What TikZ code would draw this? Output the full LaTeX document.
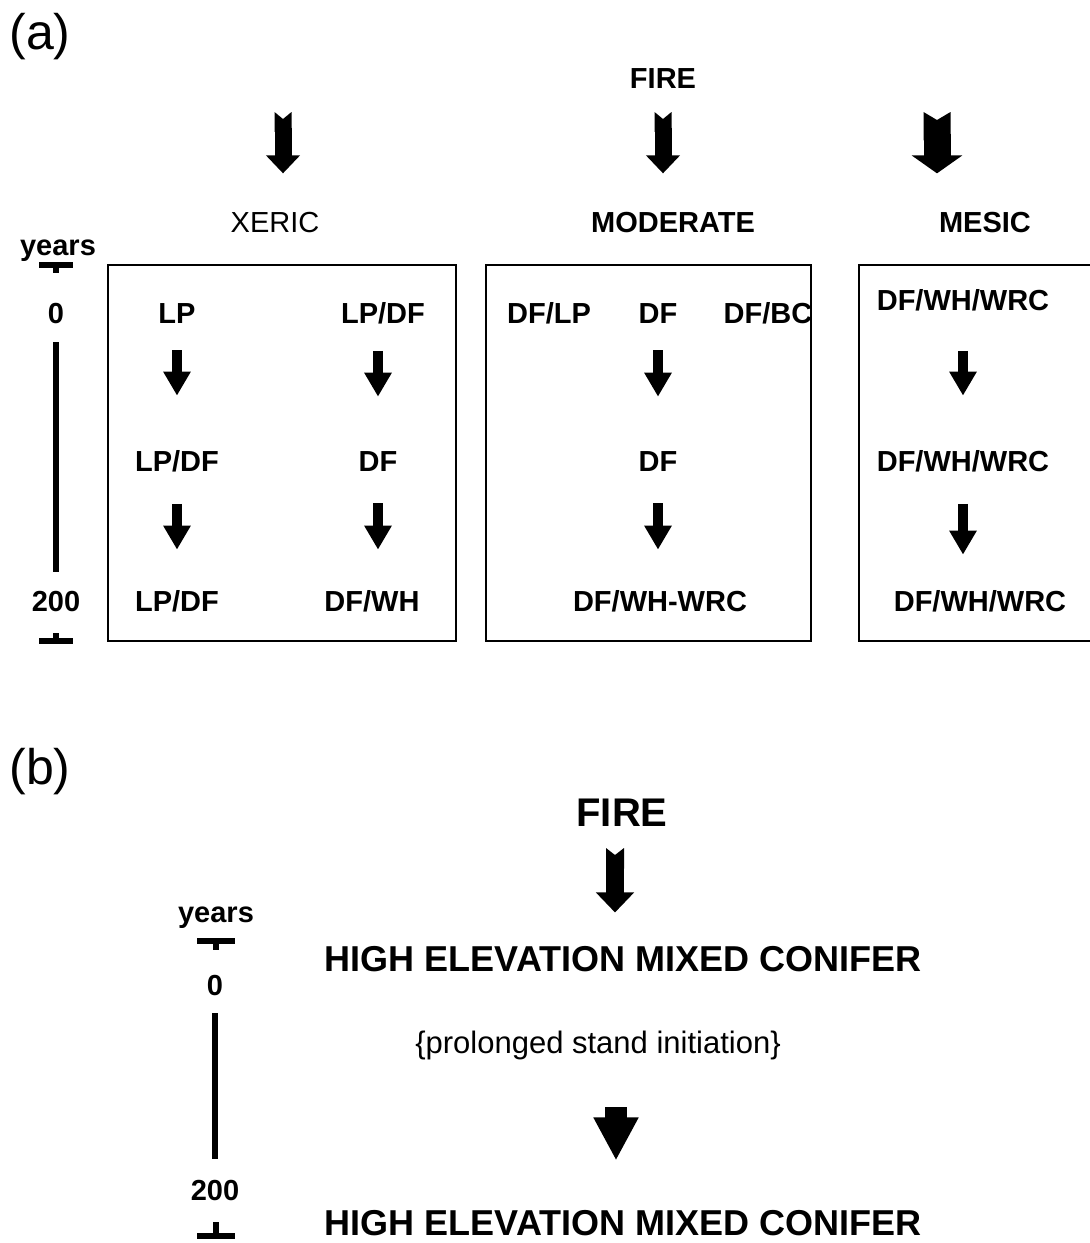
\documentclass[tikz,border=0pt]{standalone}
\usepackage{fontspec}
\setmainfont{Liberation Sans}
\usetikzlibrary{arrows.meta,positioning}

\begin{document}
\begin{tikzpicture}[x=0.5pt, y=-0.5pt,
    lab/.style={font=\fontsize{14.5}{17}\selectfont\bfseries, inner sep=0pt, anchor=base},
    plain/.style={font=\fontsize{14.5}{17}\selectfont, inner sep=0pt, anchor=base},
    panel/.style={draw, line width=1pt},
    scl/.style={line width=3.2pt},
    bar/.style={line width=3pt},
    smallarr/.style={line width=5pt, -{Triangle[width=13pt, length=12pt]}},
    flow/.style 2 args={smallarr, shorten <=#1, shorten >=#2},
    firearr/.style={line width=8.5pt, {Triangle Cap[reversed, length=3.5pt]}-{Triangle[width=16.5pt, length=9pt]}},
    widearr/.style={line width=13.5pt, {Triangle Cap[reversed, length=4pt]}-{Triangle[width=25pt, length=9pt]}}]
  \useasboundingbox (0,0) rectangle (1089,1243);

  % ---- (a) ----
  \node[font=\fontsize{25}{30}\selectfont, inner sep=0pt, anchor=base] (pa) at (40,49) {(a)};
  \node[lab] (fire) at (663,88) {FIRE};
  \node[plain] (xeric) at (275,232) {XERIC};
  \node[lab] (moder) at (673,232) {MODERATE};
  \node[lab] (mesic) at (985,232) {MESIC};
  \coordinate (fx) at (283,112);
  \coordinate (fm) at (937,112);
  \draw[firearr, shorten >=19pt] (fx) -- (fx |- xeric.north);
  \draw[firearr, shorten <=12pt, shorten >=19pt] (fire.base) -- (fire.base |- moder.north);
  \draw[widearr, shorten >=19pt] (fm) -- (fm |- mesic.north);

  % time scale
  \node[lab] (yrsa) at (58,255) {years};
  \node[lab] (y0a) at (56,323) {0};
  \node[lab] (y200a) at (56,611) {200};
  \draw[bar] (39,265) -- (73,265);
  \draw[scl] (56,265) -- (56,273);
  \draw[scl] (56,342) -- (56,572);
  \draw[scl] (56,633) -- (56,641);
  \draw[bar] (39,641) -- (73,641);

  % boxes
  \draw[panel] (108,265) rectangle (456,641);
  \draw[panel] (486,265) rectangle (811,641);
  \draw[panel] (859,265) rectangle (1095,641);

  % xeric
  \node[lab] (x11) at (177,323) {LP};
  \node[lab] (x12) at (177,471) {LP/DF};
  \node[lab] (x13) at (177,611) {LP/DF};
  \node[lab] (x21) at (383,323) {LP/DF};
  \node[lab] (x22) at (378,471) {DF};
  \node[lab] (x23) at (372,611) {DF/WH};
  \draw[flow={13.5pt}{27pt}] (x11) -- (x12);
  \draw[flow={16pt}{20pt}] (x12) -- (x13);
  \draw[flow={13.5pt}{27pt}] (x22 |- x21.south) -- (x22);
  \draw[flow={16pt}{20pt}] (x22) -- (x22 |- x23.north);

  % moderate
  \node[lab] (m1) at (549,323) {DF/LP};
  \node[lab] (m2) at (658,323) {DF};
  \node[lab] (m3) at (768,323) {DF/BC};
  \node[lab] (m4) at (658,471) {DF};
  \node[lab] (m5) at (660,611) {DF/WH-WRC};
  \draw[flow={13.5pt}{27pt}] (m2) -- (m4);
  \draw[flow={16pt}{20pt}] (m4) -- (m4 |- m5.north);

  % mesic
  \node[lab] (w1) at (963,310) {DF/WH/WRC};
  \node[lab] (w2) at (963,471) {DF/WH/WRC};
  \node[lab] (w3) at (980,611) {DF/WH/WRC};
  \draw[flow={20pt}{27pt}] (w1) -- (w2);
  \draw[flow={16pt}{17.5pt}] (w2) -- (w2 |- w3.north);

  % ---- (b) ----
  \node[font=\fontsize{25}{30}\selectfont, inner sep=0pt, anchor=base] (pb) at (40,784) {(b)};
  \node[font=\fontsize{20}{24}\selectfont\bfseries, inner sep=0pt, anchor=base] (fireb) at (622,826) {FIRE};
  \node[font=\fontsize{18}{22}\selectfont\bfseries, inner sep=0pt, anchor=base] (hem1) at (623,971) {HIGH ELEVATION MIXED CONIFER};
  \node[font=\fontsize{15.5}{19}\selectfont, inner sep=0pt, anchor=base] (prol) at (598,1053) {\{prolonged stand initiation\}};
  \node[font=\fontsize{18}{22}\selectfont\bfseries, inner sep=0pt, anchor=base] (hem2) at (623,1235) {HIGH ELEVATION MIXED CONIFER};
  \draw[line width=9pt, {Triangle Cap[reversed, length=3.5pt]}-{Triangle[width=18.5pt, length=10pt]},
        shorten <=11pt, shorten >=16.5pt] (fireb.base -| 615,0) -- (615,0 |- hem1.north);
  \draw[line width=11pt, -{Triangle[width=21pt, length=21.5pt]}, shorten <=27pt, shorten >=24.5pt]
        (prol.base -| 616,0) -- (616,0 |- hem2.north);

  % time scale
  \node[lab] (yrsb) at (216,922) {years};
  \node[lab] (y0b) at (215,995) {0};
  \node[lab] (y200b) at (215,1200) {200};
  \draw[bar] (197,941) -- (235,941);
  \draw[scl] (216,941) -- (216,950);
  \draw[scl] (215,1013) -- (215,1159);
  \draw[scl] (216,1222) -- (216,1235);
  \draw[bar] (197,1236) -- (235,1236);
\end{tikzpicture}
\end{document}
